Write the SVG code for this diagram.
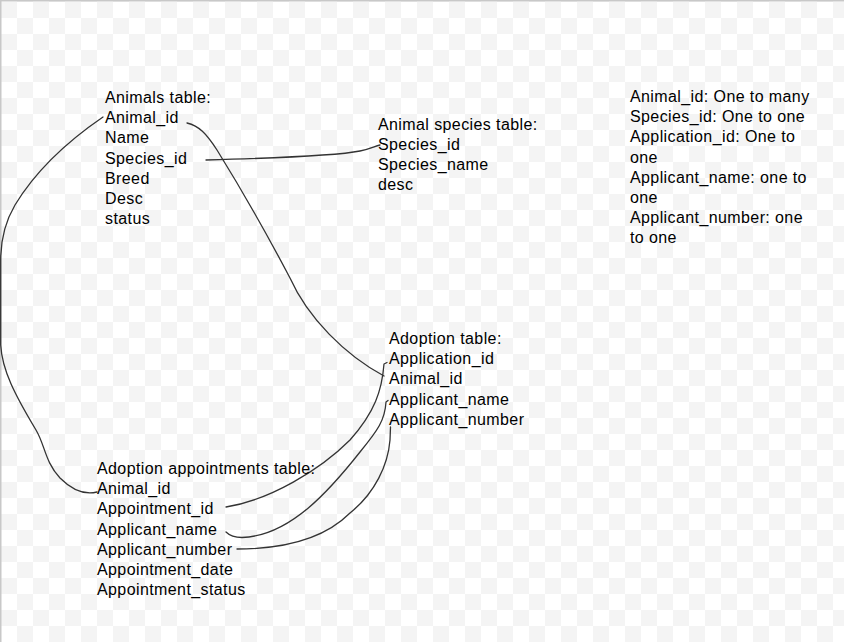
<svg xmlns="http://www.w3.org/2000/svg" width="844" height="642" viewBox="0 0 844 642">
<defs>
<pattern id="checker" patternUnits="userSpaceOnUse" x="1" y="2" width="32" height="32">
<rect x="0" y="0" width="32" height="32" fill="#ffffff"/>
<rect x="0" y="0" width="16" height="16" fill="#f4f4f4"/>
<rect x="16" y="16" width="16" height="16" fill="#f4f4f4"/>
</pattern>
</defs>
<style>
text { font-family: "Liberation Sans", Arial, sans-serif; font-size: 16px; letter-spacing: 0.4px; fill: #000000; }
.conn { fill: none; stroke: #333333; stroke-width: 1.3; stroke-linecap: round; stroke-linejoin: round; }
</style>
<rect x="0" y="0" width="844" height="642" fill="url(#checker)"/>
<rect x="0" y="0" width="844" height="1.5" fill="#c8c8c8"/>
<rect x="0" y="0" width="1.5" height="642" fill="#c8c8c8"/>

<g id="connectors">
<path class="conn" d="M103,117 C65,143 35,172 15,205 C5,222 0.7,240 0.7,260 L0.7,345 C2,370 15,395 36,430 C45,445 45,462 60,478 C72,490 85,495 97,492"/>
<path class="conn" d="M187,123 C199,126 206,133 217,150 C245,195 270,240 290,278 C308,318 345,355 384,376"/>
<path class="conn" d="M206,160 C280,158 340,155 360,151 C370,149 375,146 380,145"/>
<path class="conn" d="M226,507 C270,500 320,470 350,440 C375,412 382,390 384,364 L387,362.5"/>
<path class="conn" d="M226,532 C230,536 235,537.5 242,537.5 C290,536 330,490 360,452 C378,430 385,420 386,402 L388,400.5"/>
<path class="conn" d="M237,549 C285,549 325,538 350,513 C375,493 388,465 390,440 L390.5,427"/>
</g>

<g id="animals-table">
<text x="105" y="103">Animals table:</text>
<text x="105" y="123">Animal_id</text>
<text x="105" y="143">Name</text>
<text x="105" y="163.5">Species_id</text>
<text x="105" y="184">Breed</text>
<text x="105" y="204">Desc</text>
<text x="105" y="224">status</text>
</g>

<g id="animal-species-table">
<text x="378" y="130">Animal species table:</text>
<text x="378" y="150">Species_id</text>
<text x="378" y="170">Species_name</text>
<text x="378" y="190">desc</text>
</g>

<g id="adoption-table">
<text x="389" y="344">Adoption table:</text>
<text x="389" y="364">Application_id</text>
<text x="389" y="384">Animal_id</text>
<text x="389" y="405">Applicant_name</text>
<text x="389" y="425">Applicant_number</text>
</g>

<g id="adoption-appointments-table">
<text x="97" y="474">Adoption appointments table:</text>
<text x="97" y="494">Animal_id</text>
<text x="97" y="514">Appointment_id</text>
<text x="97" y="535">Applicant_name</text>
<text x="97" y="555">Applicant_number</text>
<text x="97" y="575">Appointment_date</text>
<text x="97" y="595">Appointment_status</text>
</g>

<g id="relationship-notes">
<text x="630" y="102">Animal_id: One to many</text>
<text x="630" y="122">Species_id: One to one</text>
<text x="630" y="142">Application_id: One to</text>
<text x="630" y="163">one</text>
<text x="630" y="183">Applicant_name: one to</text>
<text x="630" y="203">one</text>
<text x="630" y="223">Applicant_number: one</text>
<text x="630" y="243">to one</text>
</g>
</svg>
